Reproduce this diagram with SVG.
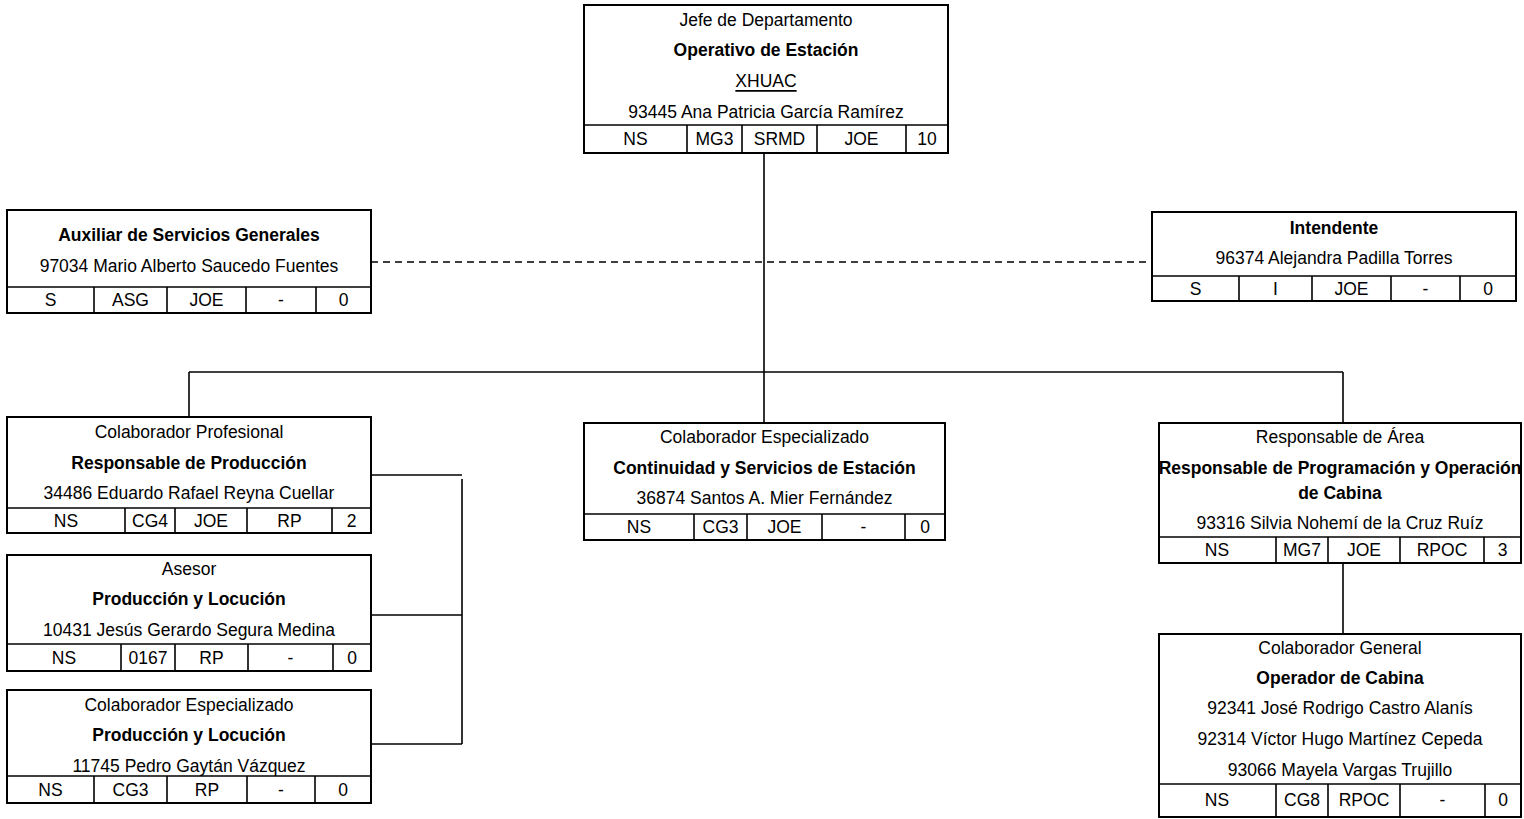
<svg xmlns="http://www.w3.org/2000/svg" width="1524" height="819" viewBox="0 0 1524 819">
<style>
  .box { fill: #ffffff; stroke: #000000; stroke-width: 2; }
  .cell { stroke: #000000; stroke-width: 1.6; fill: none; }
  .conn { stroke: #000000; stroke-width: 1.6; fill: none; }
  .dash { stroke: #000000; stroke-width: 1.6; fill: none; stroke-dasharray: 7 5; }
  text { font-family: "Liberation Sans", Arial, sans-serif; font-size: 17.5px; fill: #000000; text-anchor: middle; dominant-baseline: central; }
  .b { font-weight: bold; }
  .u { text-decoration: underline; }
</style>
<rect width="1524" height="819" fill="#ffffff"/>

<g id="connectors">
  <line class="conn" x1="764" y1="153" x2="764" y2="423"/>
  <line class="dash" x1="371" y1="262" x2="1152" y2="262"/>
  <line class="conn" x1="189" y1="372" x2="1343" y2="372"/>
  <line class="conn" x1="189" y1="372" x2="189" y2="417"/>
  <line class="conn" x1="1343" y1="372" x2="1343" y2="423"/>
  <line class="conn" x1="371" y1="475" x2="462" y2="475"/>
  <line class="conn" x1="462" y1="479" x2="462" y2="744"/>
  <line class="conn" x1="371" y1="615" x2="462" y2="615"/>
  <line class="conn" x1="371" y1="744" x2="462" y2="744"/>
  <line class="conn" x1="1343" y1="563" x2="1343" y2="634"/>
</g>

<g id="node-jefe">
  <rect class="box" x="584" y="5" width="364" height="148"/>
  <line class="cell" x1="584" y1="125" x2="948" y2="125"/>
  <line class="cell" x1="687" y1="125" x2="687" y2="153"/>
  <line class="cell" x1="742" y1="125" x2="742" y2="153"/>
  <line class="cell" x1="817" y1="125" x2="817" y2="153"/>
  <line class="cell" x1="906" y1="125" x2="906" y2="153"/>
  <text x="766" y="20">Jefe de Departamento</text>
  <text class="b" x="766" y="50">Operativo de Estación</text>
  <text class="u" x="766" y="81">XHUAC</text>
  <text x="766" y="112">93445 Ana Patricia García Ramírez</text>
  <text x="635.5" y="139">NS</text>
  <text x="714.5" y="139">MG3</text>
  <text x="779.5" y="139">SRMD</text>
  <text x="861.5" y="139">JOE</text>
  <text x="927" y="139">10</text>
</g>

<g id="node-auxiliar">
  <rect class="box" x="7" y="210" width="364" height="103"/>
  <line class="cell" x1="7" y1="287" x2="371" y2="287"/>
  <line class="cell" x1="94" y1="287" x2="94" y2="313"/>
  <line class="cell" x1="167" y1="287" x2="167" y2="313"/>
  <line class="cell" x1="246" y1="287" x2="246" y2="313"/>
  <line class="cell" x1="316" y1="287" x2="316" y2="313"/>
  <text class="b" x="189" y="235">Auxiliar de Servicios Generales</text>
  <text x="189" y="266">97034 Mario Alberto Saucedo Fuentes</text>
  <text x="50.5" y="300">S</text>
  <text x="130.5" y="300">ASG</text>
  <text x="206.5" y="300">JOE</text>
  <text x="281" y="300">-</text>
  <text x="343.5" y="300">0</text>
</g>

<g id="node-intendente">
  <rect class="box" x="1152" y="212" width="364" height="89"/>
  <line class="cell" x1="1152" y1="276" x2="1516" y2="276"/>
  <line class="cell" x1="1239" y1="276" x2="1239" y2="301"/>
  <line class="cell" x1="1312" y1="276" x2="1312" y2="301"/>
  <line class="cell" x1="1391" y1="276" x2="1391" y2="301"/>
  <line class="cell" x1="1460" y1="276" x2="1460" y2="301"/>
  <text class="b" x="1334" y="228">Intendente</text>
  <text x="1334" y="258">96374 Alejandra Padilla Torres</text>
  <text x="1195.5" y="288.5">S</text>
  <text x="1275.5" y="288.5">I</text>
  <text x="1351.5" y="288.5">JOE</text>
  <text x="1425.5" y="288.5">-</text>
  <text x="1488" y="288.5">0</text>
</g>

<g id="node-resp-produccion">
  <rect class="box" x="7" y="417" width="364" height="116"/>
  <line class="cell" x1="7" y1="508" x2="371" y2="508"/>
  <line class="cell" x1="125" y1="508" x2="125" y2="533"/>
  <line class="cell" x1="175" y1="508" x2="175" y2="533"/>
  <line class="cell" x1="247" y1="508" x2="247" y2="533"/>
  <line class="cell" x1="332" y1="508" x2="332" y2="533"/>
  <text x="189" y="432">Colaborador Profesional</text>
  <text class="b" x="189" y="463">Responsable de Producción</text>
  <text x="189" y="493">34486 Eduardo Rafael Reyna Cuellar</text>
  <text x="66" y="520.5">NS</text>
  <text x="150" y="520.5">CG4</text>
  <text x="211" y="520.5">JOE</text>
  <text x="289.5" y="520.5">RP</text>
  <text x="351.5" y="520.5">2</text>
</g>

<g id="node-asesor">
  <rect class="box" x="7" y="555" width="364" height="116"/>
  <line class="cell" x1="7" y1="644" x2="371" y2="644"/>
  <line class="cell" x1="121" y1="644" x2="121" y2="671"/>
  <line class="cell" x1="175" y1="644" x2="175" y2="671"/>
  <line class="cell" x1="248" y1="644" x2="248" y2="671"/>
  <line class="cell" x1="333" y1="644" x2="333" y2="671"/>
  <text x="189" y="569">Asesor</text>
  <text class="b" x="189" y="599">Producción y Locución</text>
  <text x="189" y="630">10431 Jesús Gerardo Segura Medina</text>
  <text x="64" y="657.5">NS</text>
  <text x="148" y="657.5">0167</text>
  <text x="211.5" y="657.5">RP</text>
  <text x="290.5" y="657.5">-</text>
  <text x="352" y="657.5">0</text>
</g>

<g id="node-col-esp-produccion">
  <rect class="box" x="7" y="690" width="364" height="113"/>
  <line class="cell" x1="7" y1="776" x2="371" y2="776"/>
  <line class="cell" x1="94" y1="776" x2="94" y2="803"/>
  <line class="cell" x1="167" y1="776" x2="167" y2="803"/>
  <line class="cell" x1="247" y1="776" x2="247" y2="803"/>
  <line class="cell" x1="315" y1="776" x2="315" y2="803"/>
  <text x="189" y="705">Colaborador Especializado</text>
  <text class="b" x="189" y="735">Producción y Locución</text>
  <text x="189" y="766">11745 Pedro Gaytán Vázquez</text>
  <text x="50.5" y="789.5">NS</text>
  <text x="130.5" y="789.5">CG3</text>
  <text x="207" y="789.5">RP</text>
  <text x="281" y="789.5">-</text>
  <text x="343" y="789.5">0</text>
</g>

<g id="node-continuidad">
  <rect class="box" x="584" y="423" width="361" height="117"/>
  <line class="cell" x1="584" y1="514" x2="945" y2="514"/>
  <line class="cell" x1="694" y1="514" x2="694" y2="540"/>
  <line class="cell" x1="747" y1="514" x2="747" y2="540"/>
  <line class="cell" x1="822" y1="514" x2="822" y2="540"/>
  <line class="cell" x1="905" y1="514" x2="905" y2="540"/>
  <text x="764.5" y="437">Colaborador Especializado</text>
  <text class="b" x="764.5" y="468">Continuidad y Servicios de Estación</text>
  <text x="764.5" y="498">36874 Santos A. Mier Fernández</text>
  <text x="639" y="527">NS</text>
  <text x="720.5" y="527">CG3</text>
  <text x="784.5" y="527">JOE</text>
  <text x="863.5" y="527">-</text>
  <text x="925" y="527">0</text>
</g>

<g id="node-resp-programacion">
  <rect class="box" x="1159" y="423" width="362" height="140"/>
  <line class="cell" x1="1159" y1="537" x2="1521" y2="537"/>
  <line class="cell" x1="1276" y1="537" x2="1276" y2="563"/>
  <line class="cell" x1="1328" y1="537" x2="1328" y2="563"/>
  <line class="cell" x1="1400" y1="537" x2="1400" y2="563"/>
  <line class="cell" x1="1484" y1="537" x2="1484" y2="563"/>
  <text x="1340" y="437">Responsable de Área</text>
  <text class="b" x="1340" y="468">Responsable de Programación y Operación</text>
  <text class="b" x="1340" y="493">de Cabina</text>
  <text x="1340" y="523">93316 Silvia Nohemí de la Cruz Ruíz</text>
  <text x="1217" y="550">NS</text>
  <text x="1302" y="550">MG7</text>
  <text x="1364" y="550">JOE</text>
  <text x="1442" y="550">RPOC</text>
  <text x="1502.5" y="550">3</text>
</g>

<g id="node-operador">
  <rect class="box" x="1159" y="634" width="362" height="183"/>
  <line class="cell" x1="1159" y1="784" x2="1521" y2="784"/>
  <line class="cell" x1="1276" y1="784" x2="1276" y2="817"/>
  <line class="cell" x1="1328" y1="784" x2="1328" y2="817"/>
  <line class="cell" x1="1400" y1="784" x2="1400" y2="817"/>
  <line class="cell" x1="1485" y1="784" x2="1485" y2="817"/>
  <text x="1340" y="648">Colaborador General</text>
  <text class="b" x="1340" y="678">Operador de Cabina</text>
  <text x="1340" y="708">92341 José Rodrigo Castro Alanís</text>
  <text x="1340" y="739">92314 Víctor Hugo Martínez Cepeda</text>
  <text x="1340" y="770">93066 Mayela Vargas Trujillo</text>
  <text x="1217" y="800">NS</text>
  <text x="1302" y="800">CG8</text>
  <text x="1364" y="800">RPOC</text>
  <text x="1442.5" y="800">-</text>
  <text x="1503" y="800">0</text>
</g>
</svg>
